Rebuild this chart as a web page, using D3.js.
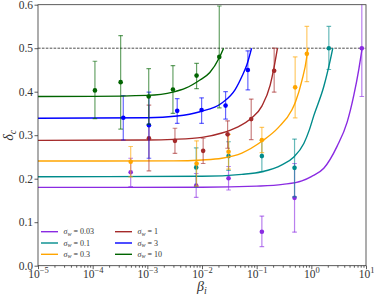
<!DOCTYPE html>
<html>
<head>
<meta charset="utf-8">
<script src="https://cdn.jsdelivr.net/npm/d3@7"></script>
<style>
  body { margin: 0; background: #fff; }
  text { font-family: "Liberation Serif", "Times New Roman", serif; fill: #333; }
</style>
</head>
<body>
<svg id="chart"></svg>
<script>
// NEEDED VARIABLES
var width = 374;
var height = 295;
var margin = {top: 4.7, right: 8, bottom: 29.3, left: 38};

// DATA
var sigmaLabels = ["0.03", "0.1", "0.3", "1", "3", "10"];
var colors = ["#8a2be2", "#008b8b", "#ffa500", "#a52a2a", "#0000ff", "#006400"];

// measured points: beta, delta, lower and upper end of error bar
var betaObs = [
  [4.96e-4, 7.83e-3, 0.0306, 0.1245, 0.493, 8.38],
  [7.83e-3, 0.0306, 0.1245, 0.493, 2.09],
  [4.96e-4, 7.96e-3, 0.0306, 0.1245, 0.506, 0.828],
  [1.07e-3, 3.2e-3, 0.0105, 0.0294, 0.0795, 0.209],
  [3.63e-4, 1.07e-3, 3.52e-3, 9.84e-3, 0.027, 0.069],
  [1.1e-4, 3.25e-4, 1.06e-3, 2.94e-3, 7.96e-3, 0.0207]
];
var deltaObs = [
  [0.215, 0.184, 0.201, 0.078, 0.156, 0.5],
  [0.226, 0.252, 0.252, 0.225, 0.5],
  [0.239, 0.235, 0.262, 0.289, 0.41, 0.487],
  [0.293, 0.287, 0.264, 0.302, 0.337, 0.448],
  [0.340, 0.323, 0.356, 0.358, 0.368, 0.450],
  [0.403, 0.422, 0.389, 0.405, 0.437, 0.48]
];
var deltaLo = [
  [0.182, 0.157, 0.174, 0.044, 0.077, 0.389],
  [0.181, 0.219, 0.216, 0.158, 0.451],
  [0.204, 0.183, 0.222, 0.26, 0.34, 0.423],
  [0.218, 0.258, 0.235, 0.27, 0.29, 0.399],
  [0.289, 0.247, 0.327, 0.327, 0.337, 0.404],
  [0.338, 0.314, 0.325, 0.35, 0.407, 0.363]
];
var deltaHi = [
  [0.247, 0.212, 0.228, 0.114, 0.235, 0.611],
  [0.271, 0.285, 0.288, 0.291, 0.55],
  [0.274, 0.287, 0.302, 0.318, 0.48, 0.55],
  [0.369, 0.316, 0.293, 0.333, 0.383, 0.5],
  [0.391, 0.399, 0.384, 0.386, 0.40, 0.494],
  [0.47, 0.529, 0.453, 0.46, 0.465, 0.597]
];

// theory curves
var betaCurve = [
  [1e-5, 0.01, 0.1, 0.3, 0.67, 1.0, 1.69, 2.97, 4.52, 5.99, 7.4, 8.5],
  [1e-5, 0.01, 0.0536, 0.1245, 0.289, 0.479, 0.729, 0.93, 1.11, 1.69, 2.24, 2.47],
  [1e-5, 0.003, 0.01, 0.0231, 0.0536, 0.1245, 0.251, 0.44, 0.514, 0.67, 0.82, 0.86],
  [1e-5, 0.001, 0.003, 0.01, 0.0231, 0.0434, 0.0817, 0.1245, 0.1767, 0.2037, 0.24],
  [1e-5, 0.001, 0.0035, 0.00917, 0.0231, 0.0404, 0.055, 0.0662, 0.0807],
  [1e-5, 1e-4, 0.001, 0.00294, 0.005, 0.00917, 0.0139, 0.0207, 0.0248]
];
var deltaCurve = [
  [0.18, 0.1803, 0.183, 0.187, 0.195, 0.205, 0.224, 0.275, 0.33, 0.392, 0.452, 0.5],
  [0.2046, 0.2055, 0.21, 0.216, 0.232, 0.25, 0.281, 0.314, 0.345, 0.412, 0.475, 0.5],
  [0.2407, 0.241, 0.243, 0.247, 0.259, 0.286, 0.318, 0.358, 0.377, 0.425, 0.478, 0.5],
  [0.288, 0.289, 0.2905, 0.295, 0.305, 0.318, 0.34, 0.367, 0.415, 0.45, 0.5],
  [0.339, 0.340, 0.344, 0.354, 0.374, 0.405, 0.438, 0.462, 0.5],
  [0.389, 0.3893, 0.3915, 0.399, 0.408, 0.427, 0.444, 0.478, 0.5]
];

var criticalLine = 0.5;
var yTicks = [0, 0.1, 0.2, 0.3, 0.4, 0.5, 0.6];
var xTicks = [1e-5, 1e-4, 1e-3, 1e-2, 1e-1, 1, 10];

// SELECTING HTML elements
var svg = d3.select("#chart")
  .attr("width", width)
  .attr("height", height)
  ;

// Scales
var xScale = d3.scaleLog()
  .domain([1e-5, 10])
  .range([margin.left, width - margin.right])
  ;
var yScale = d3.scaleLinear()
  .domain([0, 0.6])
  .range([height - margin.bottom, margin.top])
  ;

svg.append("defs").append("clipPath")
  .attr("id", "plotClip")
  .append("rect")
  .attr("x", margin.left)
  .attr("y", margin.top)
  .attr("width", width - margin.left - margin.right)
  .attr("height", height - margin.top - margin.bottom)
  ;

// Axes
var minorTicks = [];
for (var e = -5; e < 1; e++) {
  for (var m = 2; m < 10; m++) minorTicks.push(m * Math.pow(10, e));
}

var xAxisG = svg.append("g")
  .attr("transform", "translate(0," + (height - margin.bottom) + ")")
  .call(d3.axisBottom(xScale).tickValues(xTicks).tickSize(3.5).tickPadding(1).tickFormat(() => "10"))
  ;
xAxisG.selectAll(".tick text")
  .attr("font-size", 11.5)
  .each(function(d) {
    var exp = Math.round(Math.log10(d));
    d3.select(this).append("tspan")
      .attr("dy", -5)
      .attr("font-size", 8.5)
      .text(exp < 0 ? "\u2212" + (-exp) : exp)
      ;
  });

var xMinorG = svg.append("g")
  .attr("transform", "translate(0," + (height - margin.bottom) + ")")
  .call(d3.axisBottom(xScale).tickValues(minorTicks).tickSize(2).tickFormat(() => ""))
  ;

var yAxisG = svg.append("g")
  .attr("transform", "translate(" + margin.left + ",0)")
  .call(d3.axisLeft(yScale).tickValues(yTicks).tickSize(3.5).tickPadding(1.5).tickFormat(d3.format(".1f")))
  ;
yAxisG.selectAll(".tick text").attr("font-size", 11.5);

[xAxisG, xMinorG, yAxisG].forEach(function(g) {
  g.select(".domain").remove();
  g.selectAll(".tick line").attr("stroke", "#333").attr("stroke-width", 0.8);
  g.selectAll(".tick text").attr("fill", "#333").attr("font-family", "Liberation Serif, serif");
});

// Plot contents
var plot = svg.append("g").attr("clip-path", "url(#plotClip)");

plot.append("line")
  .attr("x1", xScale(1e-5))
  .attr("x2", xScale(10))
  .attr("y1", yScale(criticalLine))
  .attr("y2", yScale(criticalLine))
  .attr("stroke", "#222")
  .attr("stroke-width", 0.8)
  .attr("stroke-dasharray", "2.6,1.3")
  ;

var line = d3.line()
  .x((d) => xScale(d[0]))
  .y((d) => yScale(d[1]))
  .curve(d3.curveMonotoneX)
  ;

sigmaLabels.forEach(function(label, i) {
  var curve = d3.zip(betaCurve[i], deltaCurve[i]);
  var obs = d3.range(betaObs[i].length).map((k) => ({
    b: betaObs[i][k], d: deltaObs[i][k], lo: deltaLo[i][k], hi: deltaHi[i][k]
  }));
  var g = plot.append("g");

  g.append("path")
    .datum(curve)
    .attr("d", line)
    .attr("fill", "none")
    .attr("stroke", colors[i])
    .attr("stroke-width", 1.4)
    ;

  var bars = g.append("g")
    .attr("stroke", colors[i])
    .attr("stroke-opacity", 0.6)
    .attr("stroke-width", 1.2)
    ;
  bars.selectAll(".stem")
    .data(obs)
    .join("line")
    .attr("x1", (d) => xScale(d.b))
    .attr("x2", (d) => xScale(d.b))
    .attr("y1", (d) => yScale(d.lo))
    .attr("y2", (d) => yScale(d.hi))
    ;
  ["lo", "hi"].forEach(function(key) {
    bars.selectAll(".cap-" + key)
      .data(obs)
      .join("line")
      .attr("class", "cap-" + key)
      .attr("x1", (d) => xScale(d.b) - 2.3)
      .attr("x2", (d) => xScale(d.b) + 2.3)
      .attr("y1", (d) => yScale(d[key]))
      .attr("y2", (d) => yScale(d[key]))
      ;
  });

  g.selectAll("circle")
    .data(obs)
    .join("circle")
    .attr("cx", (d) => xScale(d.b))
    .attr("cy", (d) => yScale(d.d))
    .attr("r", 2.3)
    .attr("fill", colors[i])
    ;
});

// Frame
svg.append("rect")
  .attr("x", margin.left)
  .attr("y", margin.top)
  .attr("width", width - margin.left - margin.right)
  .attr("height", height - margin.top - margin.bottom)
  .attr("fill", "none")
  .attr("stroke", "#333")
  .attr("stroke-width", 0.8)
  ;

// Axis labels
var xLabel = svg.append("text")
  .attr("x", (margin.left + width - margin.right) / 2)
  .attr("y", 291)
  .attr("text-anchor", "middle")
  .attr("font-size", 14)
  .attr("font-style", "italic")
  ;
xLabel.append("tspan").text("\u03B2");
xLabel.append("tspan").attr("font-size", 10).attr("dy", 2.5).text("i");

var yLabel = svg.append("text")
  .attr("transform", "translate(13," + ((margin.top + height - margin.bottom) / 2) + ") rotate(-90)")
  .attr("text-anchor", "middle")
  .attr("font-size", 14)
  .attr("font-style", "italic")
  ;
yLabel.append("tspan").text("\u03B4");
yLabel.append("tspan").attr("font-size", 10).attr("dy", 3).text("c");

// Legend
var legend = svg.append("g");
sigmaLabels.forEach(function(label, i) {
  var col = Math.floor(i / 3);
  var row = i % 3;
  var lx = 41 + col * 74;
  var ly = 231.7 + row * 11.3;
  legend.append("line")
    .attr("x1", lx)
    .attr("x2", lx + 17)
    .attr("y1", ly)
    .attr("y2", ly)
    .attr("stroke", colors[i])
    .attr("stroke-width", 1.4)
    ;
  var t = legend.append("text")
    .attr("x", lx + 22.5)
    .attr("y", ly + 2.5)
    .attr("font-size", 8)
    ;
  t.append("tspan").attr("font-style", "italic").text("\u03C3");
  t.append("tspan").attr("font-style", "italic").attr("font-size", 6).attr("dy", 1.5).text("w");
  t.append("tspan").attr("dy", -1.5).text(" = " + label);
});
</script>
</body>
</html>
